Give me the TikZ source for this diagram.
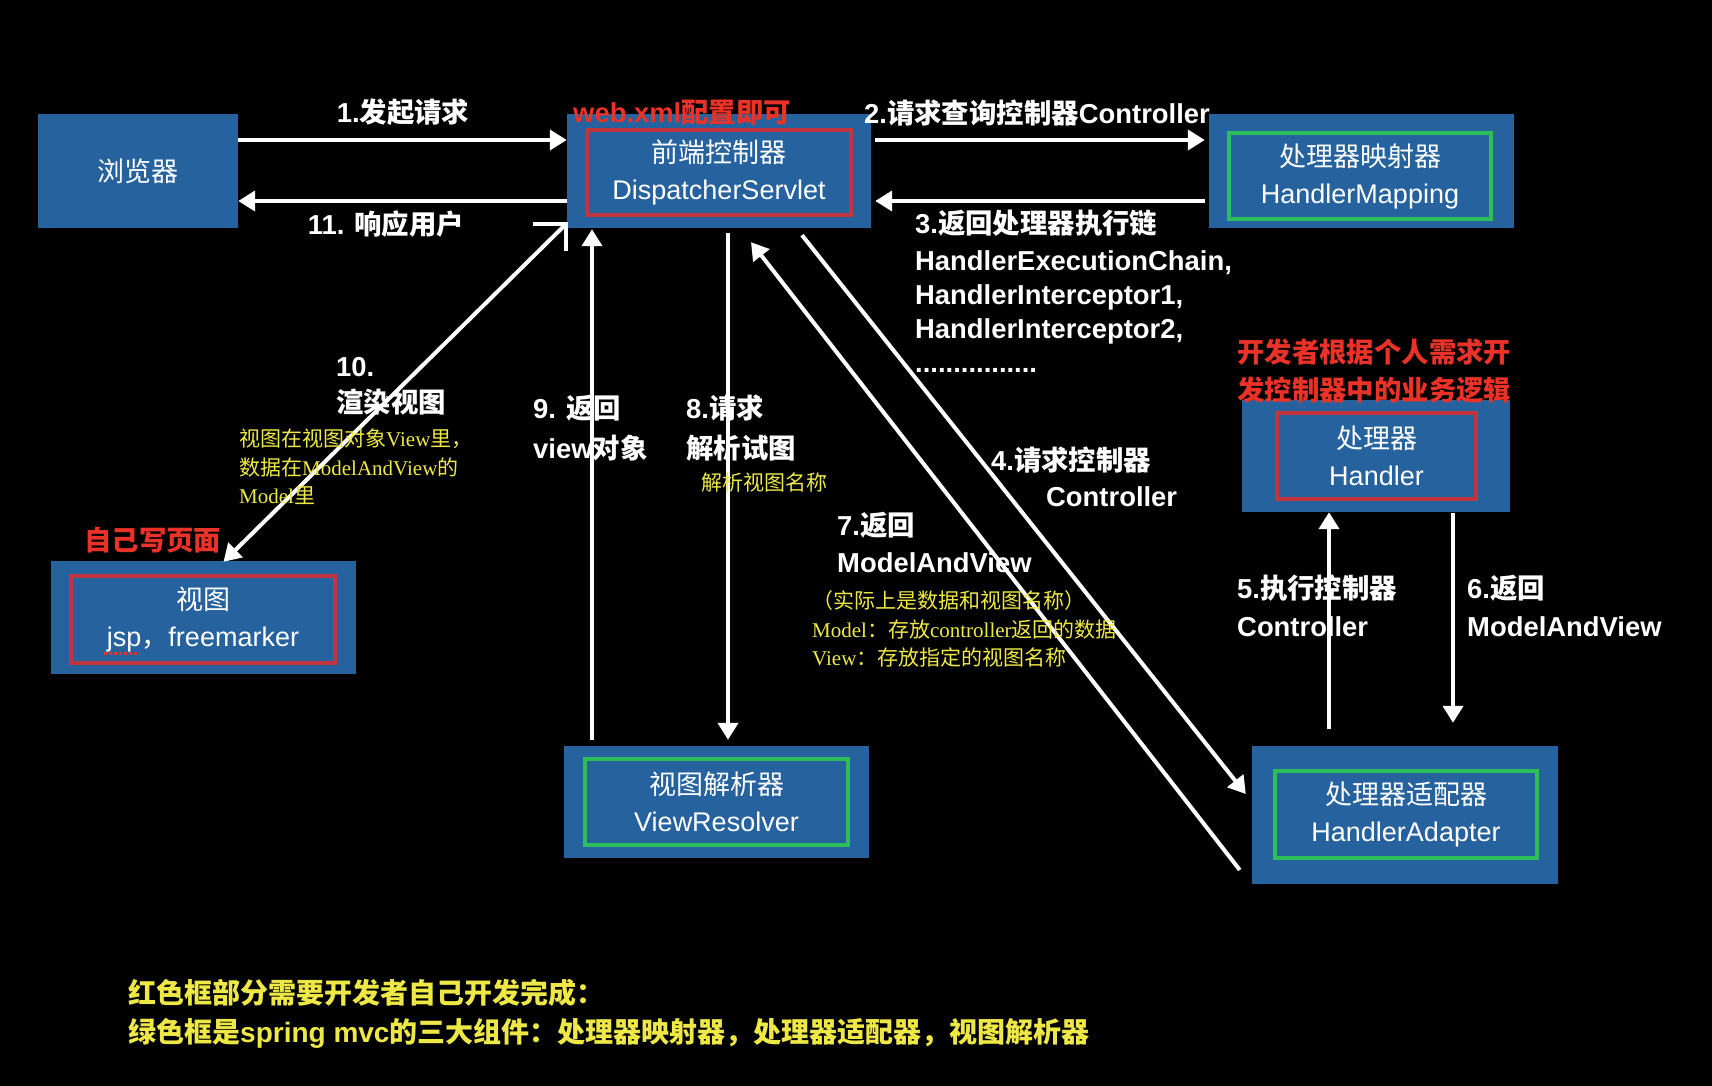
\documentclass[tikz,border=0pt]{standalone}
\usepackage{fontspec}
\setmainfont{Liberation Sans}
\newfontfamily\cjk{Noto Sans CJK SC}
\newfontfamily\sersong{Liberation Serif}
\usetikzlibrary{arrows.meta,calc}
\definecolor{boxblue}{RGB}{38,98,158}
\definecolor{inred}{RGB}{194,52,62}
\definecolor{ingreen}{RGB}{45,190,90}
\definecolor{lblred}{RGB}{235,50,40}
\definecolor{ylw}{RGB}{238,232,70}
\newcommand{\zh}[1]{{\cjk #1}}
\begin{document}
\begin{tikzpicture}[x=1pt,y=-1pt,
  obox/.style={fill=boxblue, draw=none, inner sep=0, text=white, font=\fontsize{27}{37}\selectfont, align=center},
  ibox/.style={draw, line width=4pt, inner sep=0, text=white, font=\fontsize{27}{37}\selectfont, align=center},
  arr/.style={draw=white, line width=4pt, -{Triangle[length=17pt,width=20pt]}},
  lbl/.style={text=white, font=\bfseries\fontsize{27.4}{34}\selectfont, inner sep=0, align=left, anchor=west},
  ylbl/.style={text=ylw, font=\sersong\fontsize{21}{28.5}\selectfont, inner sep=0, align=left, anchor=west},
  blbl/.style={text=ylw, font=\bfseries\fontsize{28}{34}\selectfont, inner sep=0, align=left, anchor=west}]
\fill[black] (0,0) rectangle (1712,1086);
\useasboundingbox (0,0) rectangle (1712,1086);

% boxes
\node[obox, minimum width=200pt, minimum height=114pt] (browser) at (138,171) {\zh{浏览器}};

\node[obox, minimum width=304pt, minimum height=114pt] (disp) at (719,171) {};
\node[ibox, draw=inred, minimum width=264pt, minimum height=85pt] (dispin) at (719,172.5) {\zh{前端控制器}\\DispatcherServlet};

\node[obox, minimum width=305pt, minimum height=114pt] (map) at (1361.5,171) {};
\node[ibox, draw=ingreen, minimum width=262pt, minimum height=86pt] (mapin) at (1360,176) {\zh{处理器映射器}\\HandlerMapping};

\node[obox, minimum width=268pt, minimum height=112pt] (handler) at (1376,456) {};
\node[ibox, draw=inred, minimum width=199pt, minimum height=86pt] (handlerin) at (1376.5,456) {\zh{处理器}\\Handler};

\node[obox, minimum width=305pt, minimum height=113pt] (view) at (203.5,617.5) {};
\node[ibox, draw=inred, minimum width=264pt, minimum height=87pt] (viewin) at (203,619.5) {\zh{视图}\\jsp\zh{，}freemarker};

\node[obox, minimum width=305pt, minimum height=112pt] (vr) at (716.5,802) {};
\node[ibox, draw=ingreen, minimum width=263pt, minimum height=86pt] (vrin) at (716.5,802) {\zh{视图解析器}\\ViewResolver};

\node[obox, minimum width=306pt, minimum height=138pt] (ha) at (1405,815) {};
\node[ibox, draw=ingreen, minimum width=262pt, minimum height=87pt] (hain) at (1406,814.5) {\zh{处理器适配器}\\HandlerAdapter};

% spell-check dots under jsp
\draw[lblred, line width=2.5pt, dash pattern=on 3pt off 2pt] ($(viewin.center)+(-99,34)$) -- ($(viewin.center)+(-63,34)$);

% arrows
\draw[arr] ([yshift=31pt]browser.east) -- ([yshift=31pt]disp.west);
\draw[arr] ([yshift=-30pt]disp.west) -- ([yshift=-30pt]browser.east);
\draw[arr] ([xshift=4pt,yshift=31pt]disp.east) -- ([xshift=-4pt,yshift=31pt]map.west);
\draw[arr] ([xshift=-4pt,yshift=-30pt]map.west) -- ([xshift=4pt,yshift=-30pt]disp.east);

\draw[arr] ([xshift=-3pt,yshift=2pt]disp.south west) -- ([xshift=20pt,yshift=-1pt]view.north);
\draw[white, line width=4pt] ([xshift=-34pt,yshift=4pt]disp.south west) -- ([xshift=-1pt,yshift=4pt]disp.south west) -- ([xshift=-1pt,yshift=-23pt]disp.south west);

\draw[arr] ([xshift=-124.5pt,yshift=6pt]vr.north) -- ([xshift=-127pt,yshift=-1pt]disp.south);
\draw[arr] ([xshift=9pt,yshift=-5pt]disp.south) -- ([xshift=11.5pt,yshift=6pt]vr.north);
\draw[arr] ([xshift=-12pt,yshift=-55pt]ha.west) -- ([xshift=32pt,yshift=-14pt]disp.south);
\draw[arr] ([xshift=83pt,yshift=-7pt]disp.south) -- ([xshift=-6pt,yshift=21pt]ha.west);
\draw[arr] ([xshift=-76pt,yshift=17pt]ha.north) -- ([xshift=-47pt]handler.south);
\draw[arr] ([xshift=77pt,yshift=-1pt]handler.south) -- ([xshift=48pt,yshift=23pt]ha.north);

% labels
\node[lbl, anchor=center] (l1) at (403,112) {1.\zh{发起请求}};
\node[lbl, text=lblred] (lweb) at (573,113) {web.xml\zh{配置即可}};
\node[lbl] (l2) at (864,113) {2.\zh{请求查询控制器}Controller};
\node[lbl, anchor=center] (l11) at (386,224) {11. \zh{响应用户}};
\node[lbl] (l3) at (915,291) {3.\zh{返回处理器执行链}\\[3pt]HandlerExecutionChain,\\HandlerInterceptor1,\\HandlerInterceptor2,\\................};
\node[lbl, text=lblred] (ldev) at (1237,371) {\zh{开发者根据个人需求开}\\[4pt]\zh{发控制器中的业务逻辑}};
\node[lbl] (l4a) at (991,460) {4.\zh{请求控制器}};
\node[lbl] (l4b) at (1046,497) {Controller};
\node[lbl] (l7) at (837,542.5) {7.\zh{返回}\\[3pt]ModelAndView};
\node[ylbl] (l7y) at (812,629) {\zh{（实际上是数据和视图名称）}\\Model\zh{：存放}controller\zh{返回的数据}\\View\zh{：存放指定的视图名称}};
\node[lbl] (l5) at (1237,606) {5.\zh{执行控制器}\\[4pt]Controller};
\node[lbl] (l6) at (1467,606) {6.\zh{返回}\\[4pt]ModelAndView};
\node[lbl] (l8) at (686,428) {8.\zh{请求}\\[6pt]\zh{解析试图}};
\node[ylbl] (l8y) at (701,483) {\zh{解析视图名称}};
\node[lbl] (l9) at (533,428) {9. \zh{返回}\\[6pt]view\zh{对象}};
\node[lbl] (l10) at (336,386) {10.\\[2pt]\zh{渲染视图}};
\node[ylbl] (l10y) at (239,467) {\zh{视图在视图对象}View\zh{里，}\\\zh{数据在}ModelAndView\zh{的}\\Model\zh{里}};
\node[lbl, text=lblred] (lself) at (84,540) {\zh{自己写页面}};
\node[blbl] (lbot) at (128,1013.5) {\zh{红色框部分需要开发者自己开发完成：}\\[5pt]\zh{绿色框是}spring mvc\zh{的三大组件：处理器映射器，处理器适配器，视图解析器}};
\end{tikzpicture}
\end{document}
